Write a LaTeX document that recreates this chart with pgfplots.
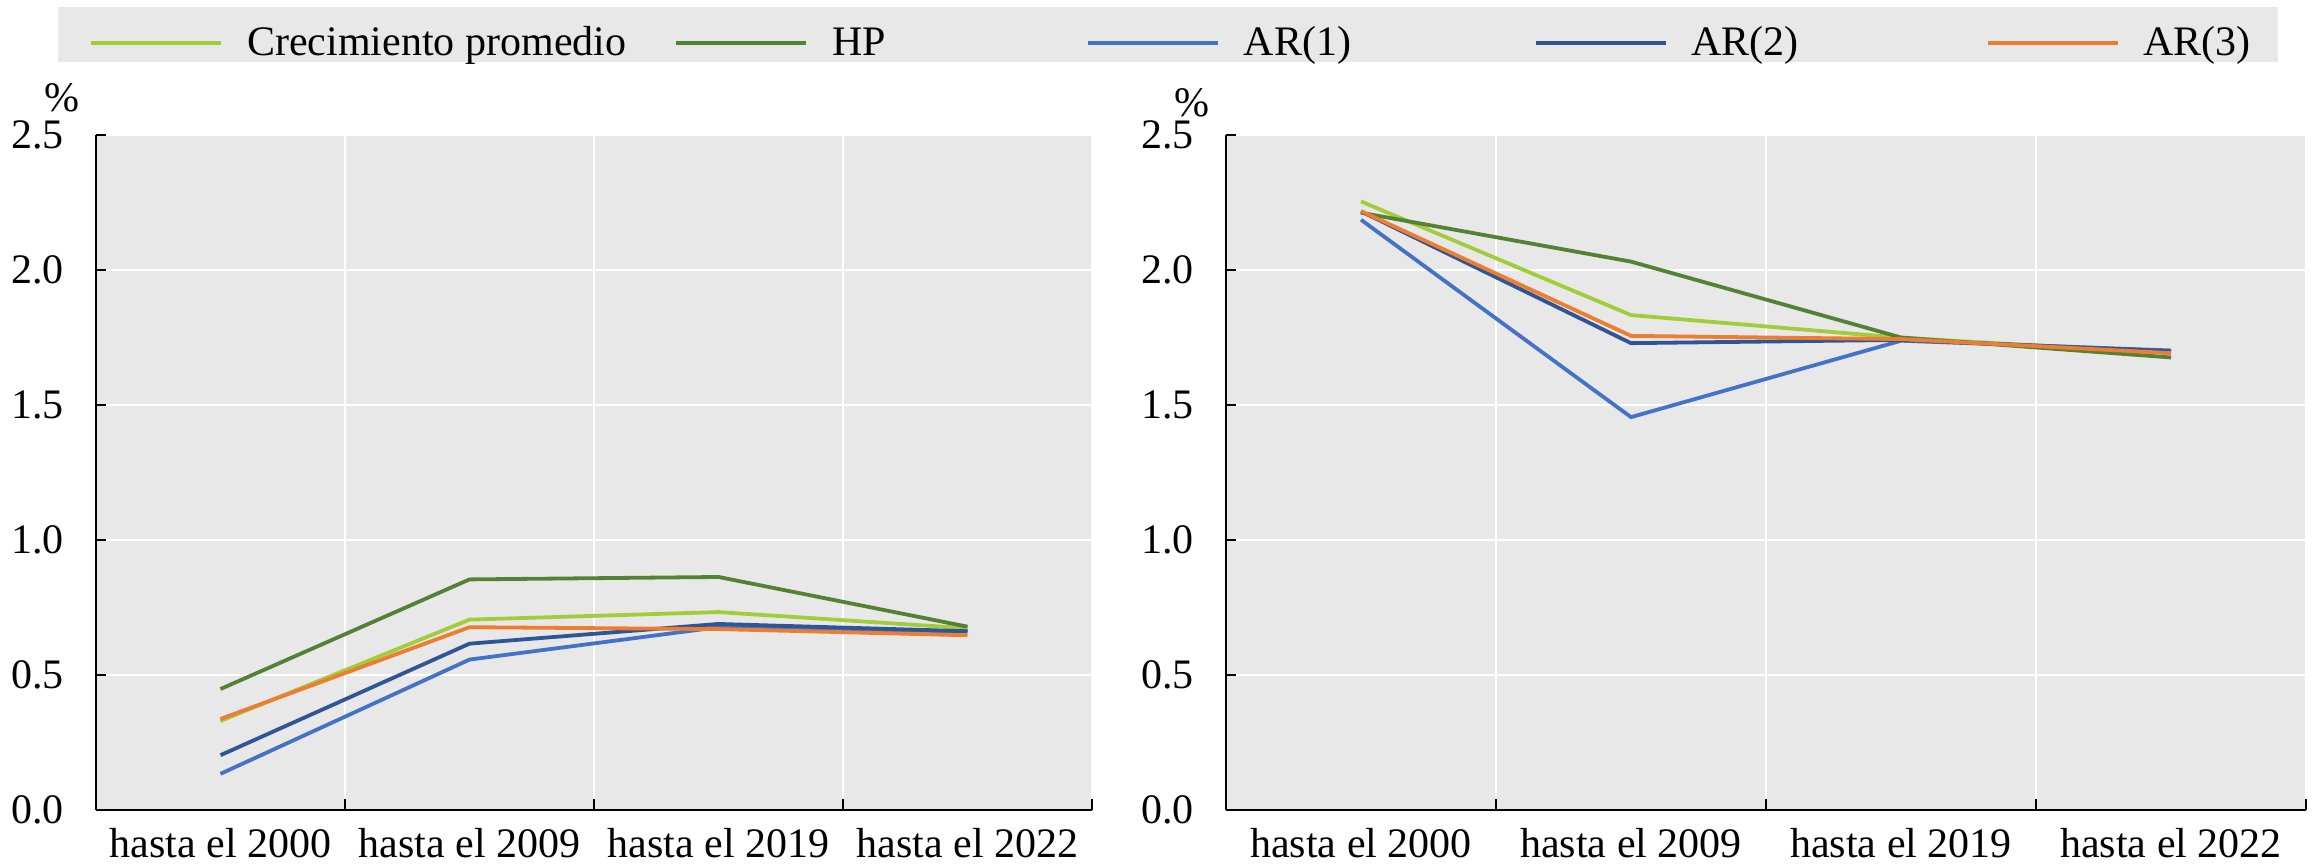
\documentclass[border=0pt]{standalone}
\usepackage{fontspec}
\setmainfont{Liberation Serif}
\usepackage{pgfplots}
\pgfplotsset{compat=1.18}
\definecolor{cprom}{HTML}{A2CD3A}
\definecolor{hp}{HTML}{548235}
\definecolor{arone}{HTML}{4472C4}
\definecolor{artwo}{HTML}{2F5597}
\definecolor{arthree}{HTML}{ED7D31}
\definecolor{bg}{HTML}{E8E8E8}
\pgfplotsset{
  panel/.style={
    scale only axis, height=337.5pt,
    xmin=-0.5, xmax=3.5, ymin=0, ymax=2.5,
    clip mode=individual,
    axis x line*=bottom, axis y line*=left,
    axis line style={-, black, line width=1pt},
    axis background/.style={fill=bg},
    xtick={0,1,2,3},
    xticklabels={hasta el 2000,hasta el 2009,hasta el 2019,hasta el 2022},
    minor xtick={0.5,1.5,2.5,3.5},
    ytick={0,0.5,1,1.5,2,2.5},
    /pgf/number format/fixed,
    /pgf/number format/fixed zerofill,
    /pgf/number format/precision=1,
    /pgf/number format/assume math mode=true,
    yticklabel style={anchor=east, inner sep=0pt, xshift=-16pt},
    xticklabel style={anchor=north, inner sep=0pt, yshift=-9pt},
    tick align=inside,
    major tick length=5pt, minor tick length=5.5pt,
    tick style={black, line width=1pt},
    every major x tick/.append style={draw=none},
    ymajorgrids, xminorgrids,
    major grid style={white, line width=1.3pt},
    minor grid style={white, line width=1pt},
    every axis plot/.append style={line width=1.9pt, mark=none},
  },
}
\begin{document}
\fontsize{21}{25}\selectfont
\begin{tikzpicture}
\path[use as bounding box] (0,0) rectangle (1159pt,432.5pt);
\begin{axis}[panel, at={(48pt,27.5pt)}, anchor=south west, width=498pt,
  legend columns=5,
  legend image code/.code={\draw[#1] (0pt,6pt) -- (65pt,6pt);},
  legend style={at={(axis description cs:-0.03815,1.18963)}, anchor=north west,
    fill=bg, draw=none, inner xsep=15.5pt, inner ysep=0pt,
    column sep=0pt, row sep=0pt, nodes={inner sep=0pt}, cells={anchor=base west, inner sep=0pt},
    /tikz/every even column/.style={column sep=0pt},
    /tikz/every odd column/.style={column sep=0pt}},
]
\addplot[cprom] coordinates {(0,0.330) (1,0.705) (2,0.733) (3,0.673)};
\addlegendentry{\makebox[225.5pt][l]{\hspace{12pt}Crecimiento promedio\rule[-8.5pt]{0pt}{32.5pt}}}
\addplot[hp] coordinates {(0,0.448) (1,0.854) (2,0.863) (3,0.679)};
\addlegendentry{\makebox[139pt][l]{\hspace{12pt}HP\rule[-8.5pt]{0pt}{32.5pt}}}
\addplot[arone] coordinates {(0,0.134) (1,0.557) (2,0.677) (3,0.661)};
\addlegendentry{\makebox[157pt][l]{\hspace{12pt}AR(1)\rule[-8.5pt]{0pt}{32.5pt}}}
\addplot[artwo] coordinates {(0,0.203) (1,0.616) (2,0.689) (3,0.662)};
\addlegendentry{\makebox[159pt][l]{\hspace{12pt}AR(2)\rule[-8.5pt]{0pt}{32.5pt}}}
\addplot[arthree] coordinates {(0,0.337) (1,0.677) (2,0.670) (3,0.647)};
\addlegendentry{\makebox[64pt][l]{\hspace{12pt}AR(3)\rule[-8.5pt]{0pt}{32.5pt}}}
\node[inner sep=0pt] at (axis description cs:-0.0341,1.0548) {\%};
\end{axis}
\begin{axis}[panel, at={(613pt,27.5pt)}, anchor=south west, width=540pt]
\addplot[cprom] coordinates {(0,2.254) (1,1.833) (2,1.749) (3,1.692)};
\addplot[hp] coordinates {(0,2.212) (1,2.031) (2,1.750) (3,1.676)};
\addplot[arone] coordinates {(0,2.186) (1,1.455) (2,1.738) (3,1.702)};
\addplot[artwo] coordinates {(0,2.217) (1,1.729) (2,1.741) (3,1.699)};
\addplot[arthree] coordinates {(0,2.218) (1,1.756) (2,1.744) (3,1.692)};
\node[inner sep=0pt] at (axis description cs:-0.0315,1.0474) {\%};
\end{axis}
\end{tikzpicture}
\end{document}
